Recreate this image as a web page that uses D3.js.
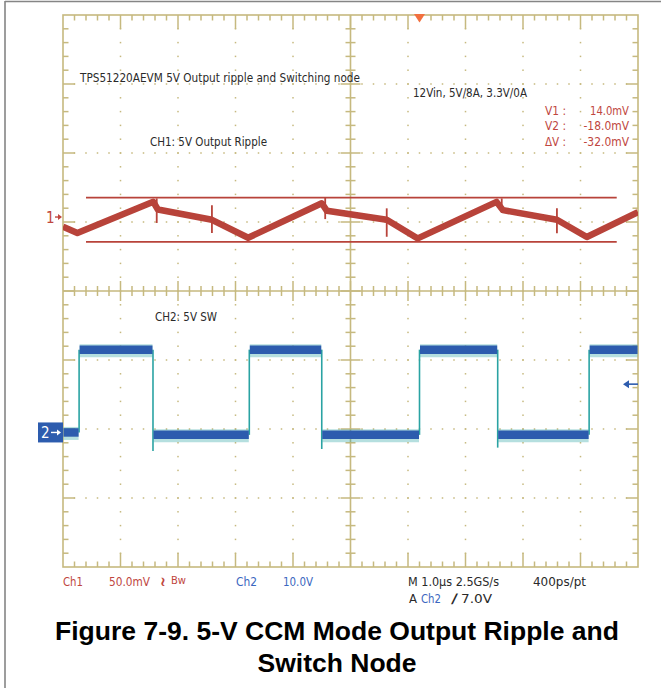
<!DOCTYPE html>
<html>
<head>
<meta charset="utf-8">
<script src="https://cdn.jsdelivr.net/npm/d3@7"></script>
<style>
  html, body { margin: 0; padding: 0; background: #fff; }
  svg { display: block; }
</style>
</head>
<body>
<svg id="chart" width="661" height="688"></svg>
<script>
// ---------------- DATA ----------------
// Time base: microseconds across the 10 horizontal divisions (1.0 µs/div)
const ch1Time   = [0, 0.25, 1.57, 1.65, 2.59, 3.22, 4.50, 4.59, 5.63, 6.17, 7.54, 7.65, 8.59, 9.11, 10];
const ch1Ripple = [-7, -11.5, 11, 5.5, -2, -15, 10, 4.5, -2, -15.5, 11, 5, -2, -14.5, 3.5]; // mV
const ch1SpikeTime = [1.63, 2.59, 4.56, 5.63, 7.63, 8.59];
const ch1SpikeHigh = [13.5, 8.5, 14.3, 6.3, 13.5, 6.3];   // mV
const ch1SpikeLow  = [-4.3, -11.6, -1.5, -14.3, 3, -11.8]; // mV
const cursorLabels = ["V1 :", "V2 :", "\u0394V :"];
const cursorValues = [14.0, -18.0, -32.0]; // mV
const cursorSpan   = [0.4, 9.63];           // µs

const ch2Time  = [0, 0.28, 1.565, 3.24, 4.50, 6.20, 7.56, 9.15, 10]; // segment boundaries (µs)
const ch2Level = [0, 12.0, -0.35, 12.0, -0.35, 12.0, -0.35, 12.0];    // V per segment
const ch2FallUndershoot = [-2.7, -2.4, -2.2]; // V at the falling edges
const triggerLevel = 7.0;  // V
const triggerTime  = 6.20; // µs

const ch1Scale = 50;  // mV/div
const ch2ScaleV = 10; // V/div
const ch1Offset = 53.6;  // mV (ground 1.07 div above centre)
const ch2Offset = -20.5; // V (ground 2.05 div below centre)

const headerText = "TPS51220AEVM 5V Output ripple and Switching node";
const condText   = "12Vin, 5V/8A, 3.3V/0A";
const ch1Label   = "CH1: 5V Output Ripple";
const ch2Label   = "CH2: 5V SW";
const bottomRow1 = [
  {t: "Ch1", c: "red"}, {t: "50.0mV", c: "red"}, {t: "\u2240", c: "red"}, {t: "Bw", c: "red"},
  {t: "Ch2", c: "blue"}, {t: "10.0V", c: "blue"},
  {t: "M 1.0\u00b5s 2.5GS/s", c: "dark"}, {t: "400ps/pt", c: "dark"}
];
const bottomRow2 = [{t: "A", c: "dark"}, {t: "Ch2", c: "blue"}, {t: "\u2215", c: "dark"}, {t: "7.0V", c: "dark"}];
const captionLines = ["Figure 7-9. 5-V CCM Mode Output Ripple and", "Switch Node"];

// ---------------- LAYOUT ----------------
const svg = d3.select("#chart");
const X0 = 63, X1 = 638, Y0 = 15, Y1 = 567;
const GRID = "#c6b97f", RED = "#b8433a", REDTXT = "#c0463e", BLUE = "#2d5cae", BLUETXT = "#3b67c0", CYAN = "#2aa3a3", DARK = "#2a2a2a";
const colorOf = c => c === "red" ? REDTXT : c === "blue" ? BLUETXT : DARK;
const scopeFont = "'Liberation Sans Narrow','DejaVu Sans Condensed','Liberation Sans',Arial,sans-serif";

const x = d3.scaleLinear().domain([0, 10]).range([X0, X1]);
const div = d3.scaleLinear().domain([-4, 4]).range([Y1, Y0]);
const y1 = d3.scaleLinear().domain([-4 * ch1Scale - ch1Offset, 4 * ch1Scale - ch1Offset]).range([Y1, Y0]);
const y2 = d3.scaleLinear().domain([-4 * ch2ScaleV - ch2Offset, 4 * ch2ScaleV - ch2Offset]).range([Y1, Y0]);

// page frame
svg.append("line").attr("x1", 5).attr("x2", 5).attr("y1", 1).attr("y2", 688).attr("stroke", "#858585").attr("stroke-width", 1.6);
svg.append("line").attr("x1", 5).attr("x2", 661).attr("y1", 1.5).attr("y2", 1.5).attr("stroke", "#858585").attr("stroke-width", 1.6);

// ---------------- GRID ----------------
const g = svg.append("g");
const majorT = d3.range(0, 10.001, 1);
const minorT = d3.range(0, 10.001, 0.2);
const majorV = d3.range(-4, 4.001, 1);
const minorV = d3.range(-4, 4.001, 0.2);

// dotted grid lines
majorT.filter(t => t > 0 && t < 10 && t !== 5).forEach(t => {
  g.selectAll(null).data(minorV.filter(v => v > -4 && v < 4)).enter().append("rect")
    .attr("x", x(t) - 0.75).attr("y", d => div(d) - 0.75).attr("width", 1.5).attr("height", 1.5).attr("fill", GRID);
});
majorV.filter(v => v > -4 && v < 4 && v !== 0).forEach(v => {
  g.selectAll(null).data(minorT.filter(t => t > 0 && t < 10)).enter().append("rect")
    .attr("x", d => x(d) - 0.75).attr("y", div(v) - 0.75).attr("width", 1.5).attr("height", 1.5).attr("fill", GRID);
});

// border
g.append("rect").attr("x", X0).attr("y", Y0).attr("width", X1 - X0).attr("height", Y1 - Y0)
  .attr("fill", "none").attr("stroke", GRID).attr("stroke-width", 1.6);
// centre axes
g.append("line").attr("x1", X0).attr("x2", X1).attr("y1", div(0)).attr("y2", div(0)).attr("stroke", GRID).attr("stroke-width", 1.6);
g.append("line").attr("x1", x(5)).attr("x2", x(5)).attr("y1", Y0).attr("y2", Y1).attr("stroke", GRID).attr("stroke-width", 1.6);

const isMajor = v => Math.abs(v - Math.round(v)) < 1e-6;
function tick(x1_, y1_, x2_, y2_) {
  g.append("line").attr("x1", x1_).attr("y1", y1_).attr("x2", x2_).attr("y2", y2_).attr("stroke", GRID).attr("stroke-width", 1.5);
}
// top / bottom edge and centre horizontal axis ticks
minorT.filter(t => t > 0 && t < 10).forEach(t => {
  const L = isMajor(t) ? 14 : 5.5;
  tick(x(t), Y0, x(t), Y0 + L);
  tick(x(t), Y1, x(t), Y1 - L);
  const c = isMajor(t) ? 10 : 5;
  tick(x(t), div(0) - c, x(t), div(0) + c);
});
// left / right edge and centre vertical axis ticks
minorV.filter(v => v > -4 && v < 4).forEach(v => {
  const L = isMajor(v) ? 12 : 5.5;
  tick(X0, div(v), X0 + L, div(v));
  tick(X1, div(v), X1 - L, div(v));
  const c = isMajor(v) ? 10 : 5;
  tick(x(5) - c, div(v), x(5) + c, div(v));
});

// ---------------- TRACES ----------------
svg.append("clipPath").attr("id", "clip").append("rect").attr("x", X0).attr("y", Y0).attr("width", X1 - X0).attr("height", Y1 - Y0);
const tr = svg.append("g").attr("clip-path", "url(#clip)");

// cursors
cursorValues.slice(0, 2).forEach(v => {
  tr.append("line").attr("x1", x(cursorSpan[0])).attr("x2", x(cursorSpan[1]))
    .attr("y1", y1(v)).attr("y2", y1(v)).attr("stroke", RED).attr("stroke-width", 1.8);
});

// CH1 ripple
const ch1 = ch1Time.map((t, i) => ({t, v: ch1Ripple[i]}));
tr.append("path").datum(ch1)
  .attr("d", d3.line().x(d => x(d.t)).y(d => y1(d.v)))
  .attr("fill", "none").attr("stroke", RED).attr("stroke-width", 6.5).attr("stroke-linejoin", "round");
ch1SpikeTime.forEach((t, i) => {
  tr.append("line").attr("x1", x(t)).attr("x2", x(t)).attr("y1", y1(ch1SpikeHigh[i])).attr("y2", y1(ch1SpikeLow[i]))
    .attr("stroke", RED).attr("stroke-width", 1.8);
});

// CH2 switch node
const segs = ch2Level.map((v, i) => ({t0: ch2Time[i], t1: ch2Time[i + 1], v}));
let fallIdx = 0;
segs.forEach((s, i) => {
  if (i === 0) return;
  const prev = segs[i - 1];
  let lo = Math.min(prev.v, s.v), hi = Math.max(prev.v, s.v);
  if (s.v < prev.v) { lo = ch2FallUndershoot[fallIdx++] ?? lo; }
  tr.append("line").attr("x1", x(s.t0)).attr("x2", x(s.t0)).attr("y1", y2(hi)).attr("y2", y2(lo))
    .attr("stroke", CYAN).attr("stroke-width", 1.6);
});
tr.selectAll(null).data(segs).enter().append("line")
  .attr("x1", d => x(d.t0) + 0.5).attr("x2", d => x(d.t1) - 0.5).attr("y1", d => y2(d.v) + 1).attr("y2", d => y2(d.v) + 1)
  .attr("stroke", CYAN).attr("stroke-opacity", 0.35).attr("stroke-width", 13);
tr.selectAll(null).data(segs).enter().append("line")
  .attr("x1", d => x(d.t0) + 0.5).attr("x2", d => x(d.t1) - 0.5).attr("y1", d => y2(d.v)).attr("y2", d => y2(d.v))
  .attr("stroke", BLUE).attr("stroke-width", 8.5);

// ---------------- MARKERS ----------------
svg.append("text").attr("x", 46).attr("y", y1(0) + 6).attr("font-family", scopeFont).attr("font-size", 15)
  .attr("fill", REDTXT).text("1");
svg.append("line").attr("x1", 55).attr("x2", 60).attr("y1", y1(0)).attr("y2", y1(0)).attr("stroke", REDTXT).attr("stroke-width", 1.4);
svg.append("path").attr("d", `M62,${y1(0)} l-4,-3 v6 z`).attr("fill", REDTXT);

const g2 = y2(0);
svg.append("rect").attr("x", 38).attr("y", g2 - 10).attr("width", 25).attr("height", 20).attr("fill", BLUE);
svg.append("text").attr("x", 41).attr("y", g2 + 6).attr("font-family", scopeFont).attr("font-size", 15).attr("fill", "#fff").text("2");
svg.append("line").attr("x1", 51).attr("x2", 58).attr("y1", g2).attr("y2", g2).attr("stroke", "#fff").attr("stroke-width", 1.4);
svg.append("path").attr("d", `M61,${g2} l-4,-3 v6 z`).attr("fill", "#fff");

const ty = y2(triggerLevel);
svg.append("line").attr("x1", 627).attr("x2", 638).attr("y1", ty).attr("y2", ty).attr("stroke", BLUE).attr("stroke-width", 1.6);
svg.append("path").attr("d", `M623,${ty} l6,-4 v8 z`).attr("fill", BLUE);

const tx = x(triggerTime);
svg.append("path").attr("d", `M${tx - 5.5},14 h11 l-5.5,8.5 z`).attr("fill", "#f2703f");

// ---------------- TEXT ----------------
function fitText(str, xPos, yPos, width, size, color, anchor) {
  const t = svg.append("text").attr("x", xPos).attr("y", yPos).attr("font-family", scopeFont)
    .attr("font-size", size).attr("fill", color).attr("text-anchor", anchor || "start").text(str);
  if (width) t.attr("textLength", width).attr("lengthAdjust", "spacingAndGlyphs");
  return t;
}
fitText(headerText, 80, 82, 280, 13, DARK);
fitText(condText, 413, 97, 114, 13, DARK);
fitText(ch1Label, 150, 146, 117, 13, DARK);
fitText(ch2Label, 155, 321, 62, 13, DARK);

const fmt = v => v.toFixed(1) + "mV";
cursorLabels.forEach((l, i) => {
  const yy = 115 + i * 15.3;
  fitText(l, 545, yy, 21, 13, REDTXT);
  const s = fmt(cursorValues[i]);
  fitText(s, 629, yy, s.length * 6.5, 13, REDTXT, "end");
});

const row1X = [63, 109, 159, 171, 236, 283, 408, 533];
const row1W = [20, 41, 8, 15, 21, 30, 91, 53];
bottomRow1.forEach((d, i) => {
  const t = fitText(d.t, row1X[i], 586, row1W[i], d.t === "Bw" ? 11 : 13, colorOf(d.c));
  if (d.t === "Bw") t.attr("y", 584);
});
const row2X = [409, 421, 451, 461];
const row2W = [8, 20, 7, 31];
bottomRow2.forEach((d, i) => fitText(d.t, row2X[i], 603, row2W[i], 13, colorOf(d.c)));

captionLines.forEach((l, i) => {
  svg.append("text").attr("x", 337).attr("y", 640 + i * 32).attr("text-anchor", "middle")
    .attr("font-family", "'Liberation Sans',Arial,Helvetica,sans-serif").attr("font-weight", "bold")
    .attr("font-size", 26.5).attr("fill", "#000").text(l);
});
</script>
</body>
</html>
